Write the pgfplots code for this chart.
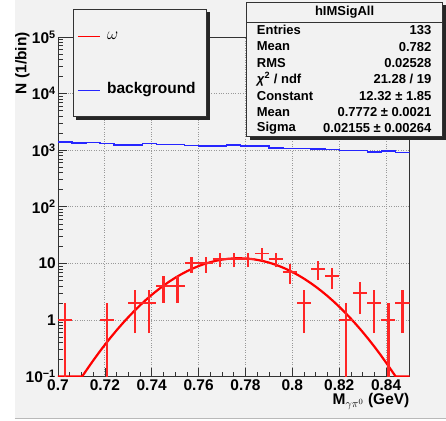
\documentclass[border=0pt]{standalone}
\usepackage{fontspec}
\setmainfont{Liberation Sans}
\usepackage{pgfplots}
\pgfplotsset{compat=1.18}
\definecolor{padgray}{gray}{0.95}
\definecolor{rootblue}{rgb}{0.15,0.15,1}
\definecolor{crossred}{rgb}{1,0.15,0.15}
\newcommand{\bigf}{\bfseries\fontsize{15.5}{18}\selectfont}
\newcommand{\statf}{\bfseries\fontsize{13}{15}\selectfont}
\begin{document}
\begin{tikzpicture}[x=1pt,y=1pt]
\fill[white] (0,0) rectangle (446,421);
\fill[padgray] (15,2) rectangle (446,421);
\draw[gray!55, line width=1pt] (15,2.5) -- (446,2.5);
\useasboundingbox (0,0) rectangle (446,421);
\begin{axis}[
  at={(58pt,44pt)}, anchor=south west,
  scale only axis, width=352pt, height=340pt,
  xmin=0.7, xmax=0.85, ymode=log, ymin=0.1, ymax=1e5,
  axis background/.style={fill=padgray},
  axis line style={black!80, line width=0.8pt},
  tick pos=left, tick align=inside,
  major tick length=9pt, minor tick length=5pt,
  tick style={black!80, line width=0.6pt},
  xtick={0.7,0.72,0.74,0.76,0.78,0.8,0.82,0.84},
  xticklabels={0.7,0.72,0.74,0.76,0.78,0.8,0.82,0.84},
  minor x tick num=3,
  ytick={0.1,1,10,100,1000,10000,100000},
  yticklabels={10\textsuperscript{−1},1,10,10\textsuperscript{2},10\textsuperscript{3},10\textsuperscript{4},10\textsuperscript{5}},
  minor ytick={0.2,0.3,0.4,0.5,0.6,0.7,0.8,0.9,2,3,4,5,6,7,8,9,20,30,40,50,60,70,80,90,200,300,400,500,600,700,800,900,2000,3000,4000,5000,6000,7000,8000,9000,20000,30000,40000,50000,60000,70000,80000,90000},
  tick label style={font=\bigf},
  xticklabel style={inner sep=2.5pt},
  yticklabel style={inner sep=2pt},
  grid=major,
  major grid style={dotted, gray!80, line width=0.7pt},
  clip=true,
  unbounded coords=jump,
]
% background histogram
\addplot[rootblue, line width=1.4pt, const plot mark left] coordinates {
(0.700,1403) (0.706,1347) (0.712,1362) (0.718,1309) (0.724,1241)
(0.730,1241) (0.736,1309) (0.742,1256) (0.748,1256) (0.754,1206)
(0.760,1191) (0.766,1191) (0.772,1227) (0.778,1178) (0.784,1178)
(0.790,1087) (0.796,1069) (0.802,1069) (0.808,1055) (0.814,1035)
(0.820,985) (0.826,985) (0.832,934) (0.838,973) (0.844,908) (0.850,908)};
% fitted Gaussian (tabulated)
\addplot[red, line width=2.2pt] coordinates {
(0.700,0.1) (0.7103,0.1) (0.7125,0.1359) (0.715,0.1912) (0.7175,0.2655)
(0.720,0.3637) (0.7225,0.4915) (0.725,0.6554) (0.7275,0.862) (0.730,1.1189)
(0.7325,1.4334) (0.735,1.8112) (0.7375,2.2578) (0.740,2.7769) (0.7425,3.3698)
(0.745,4.0347) (0.7475,4.766) (0.750,5.5548) (0.7525,6.3873) (0.755,7.2474)
(0.7575,8.1122) (0.760,8.9596) (0.7625,9.7629) (0.765,10.496) (0.7675,11.133)
(0.770,11.651) (0.7725,12.030) (0.775,12.256) (0.7772,12.32) (0.780,12.217)
(0.7825,11.953) (0.785,11.539) (0.7875,10.990) (0.790,10.328) (0.7925,9.5758)
(0.795,8.759) (0.7975,7.9053) (0.800,7.0392) (0.8025,6.1848) (0.805,5.3609)
(0.8075,4.5848) (0.810,3.8686) (0.8125,3.2207) (0.815,2.6456) (0.8175,2.1439)
(0.820,1.7141) (0.8225,1.3527) (0.825,1.0526) (0.8275,0.8082) (0.830,0.6123)
(0.8325,0.4578) (0.835,0.3377) (0.8375,0.2457) (0.840,0.1764) (0.8425,0.1249)
(0.8441,0.1) (0.850,0.1)};
% data points (counts N with sqrt(N) errors, bin width 0.006): vertical bars
\addplot[crossred, line width=2.2pt] coordinates {
(0.703,0.01) (0.703,2) (0.703,nan)
(0.721,0.01) (0.721,2) (0.721,nan)
(0.733,0.586) (0.733,3.414) (0.733,nan)
(0.739,0.586) (0.739,3.414) (0.739,nan)
(0.745,2) (0.745,6) (0.745,nan)
(0.751,2) (0.751,6) (0.751,nan)
(0.757,6.838) (0.757,13.162) (0.757,nan)
(0.763,6.838) (0.763,13.162) (0.763,nan)
(0.769,8.536) (0.769,15.464) (0.769,nan)
(0.775,8.536) (0.775,15.464) (0.775,nan)
(0.781,8.536) (0.781,15.464) (0.781,nan)
(0.787,11.127) (0.787,18.873) (0.787,nan)
(0.793,8.536) (0.793,15.464) (0.793,nan)
(0.799,4.354) (0.799,9.646) (0.799,nan)
(0.805,0.586) (0.805,3.414) (0.805,nan)
(0.811,5.172) (0.811,10.828) (0.811,nan)
(0.817,3.551) (0.817,8.449) (0.817,nan)
(0.823,0.01) (0.823,2) (0.823,nan)
(0.829,1.268) (0.829,4.732) (0.829,nan)
(0.835,0.586) (0.835,3.414) (0.835,nan)
(0.841,0.01) (0.841,2) (0.841,nan)
(0.847,0.586) (0.847,3.414)};
% horizontal bars (bin widths)
\addplot[crossred, line width=1.8pt] coordinates {
(0.700,1) (0.706,1) (0.703,nan)
(0.718,1) (0.724,1) (0.721,nan)
(0.730,2) (0.736,2) (0.733,nan)
(0.736,2) (0.742,2) (0.739,nan)
(0.742,4) (0.748,4) (0.745,nan)
(0.748,4) (0.754,4) (0.751,nan)
(0.754,10) (0.760,10) (0.757,nan)
(0.760,10) (0.766,10) (0.763,nan)
(0.766,12) (0.772,12) (0.769,nan)
(0.772,12) (0.778,12) (0.775,nan)
(0.778,12) (0.784,12) (0.781,nan)
(0.784,15) (0.790,15) (0.787,nan)
(0.790,12) (0.796,12) (0.793,nan)
(0.796,7) (0.802,7) (0.799,nan)
(0.802,2) (0.808,2) (0.805,nan)
(0.808,8) (0.814,8) (0.811,nan)
(0.814,6) (0.820,6) (0.817,nan)
(0.820,1) (0.826,1) (0.823,nan)
(0.826,3) (0.832,3) (0.829,nan)
(0.832,2) (0.838,2) (0.835,nan)
(0.838,1) (0.844,1) (0.841,nan)
(0.844,2) (0.850,2)};
\end{axis}
% axis titles
\node[rotate=90, anchor=east, inner sep=0] at (22.5,389) {\bigf N (1/bin)};
\node[anchor=base east, inner sep=0] at (410,16) {\bigf M$_{\gamma\pi^{0}}$ (GeV)};
% legend
\fill[black!85] (76,301) rectangle (210,409);
\filldraw[fill=padgray, draw=black!80, line width=0.8pt] (73,304) rectangle (207,412);
\draw[red, line width=1pt] (78,384) -- (100,384);
\node[anchor=west, inner sep=0] at (107,385) {\fontsize{16}{16}\selectfont$\omega$};
\draw[rootblue, line width=1pt] (78,330) -- (100,330);
\node[anchor=west, inner sep=0] at (107,331) {\bigf background};
% stat box
\fill[black!85] (250,281) rectangle (446,416);
\filldraw[fill=padgray, draw=black!80, line width=0.8pt] (247,284) rectangle (443,419);
\draw[black!80, line width=0.8pt] (247,399) -- (443,399);
\node[inner sep=0] at (345,409) {\statf hIMSigAll};
\foreach \yy/\lab/\val in {
  390.8/Entries/133,
  374.4/Mean/0.782,
  358.0/RMS/0.02528,
  341.6/{\textit{χ}\textsuperscript{2} / ndf}/{21.28 / 19},
  325.2/Constant/{12.32 ± 1.85},
  308.8/Mean/{0.7772 ± 0.0021},
  292.4/Sigma/{0.02155 ± 0.00264}} {
  \node[anchor=west, inner sep=0] at (257,\yy) {\statf\lab};
  \node[anchor=east, inner sep=0] at (432,\yy) {\statf\val};
}
\end{tikzpicture}
\end{document}
